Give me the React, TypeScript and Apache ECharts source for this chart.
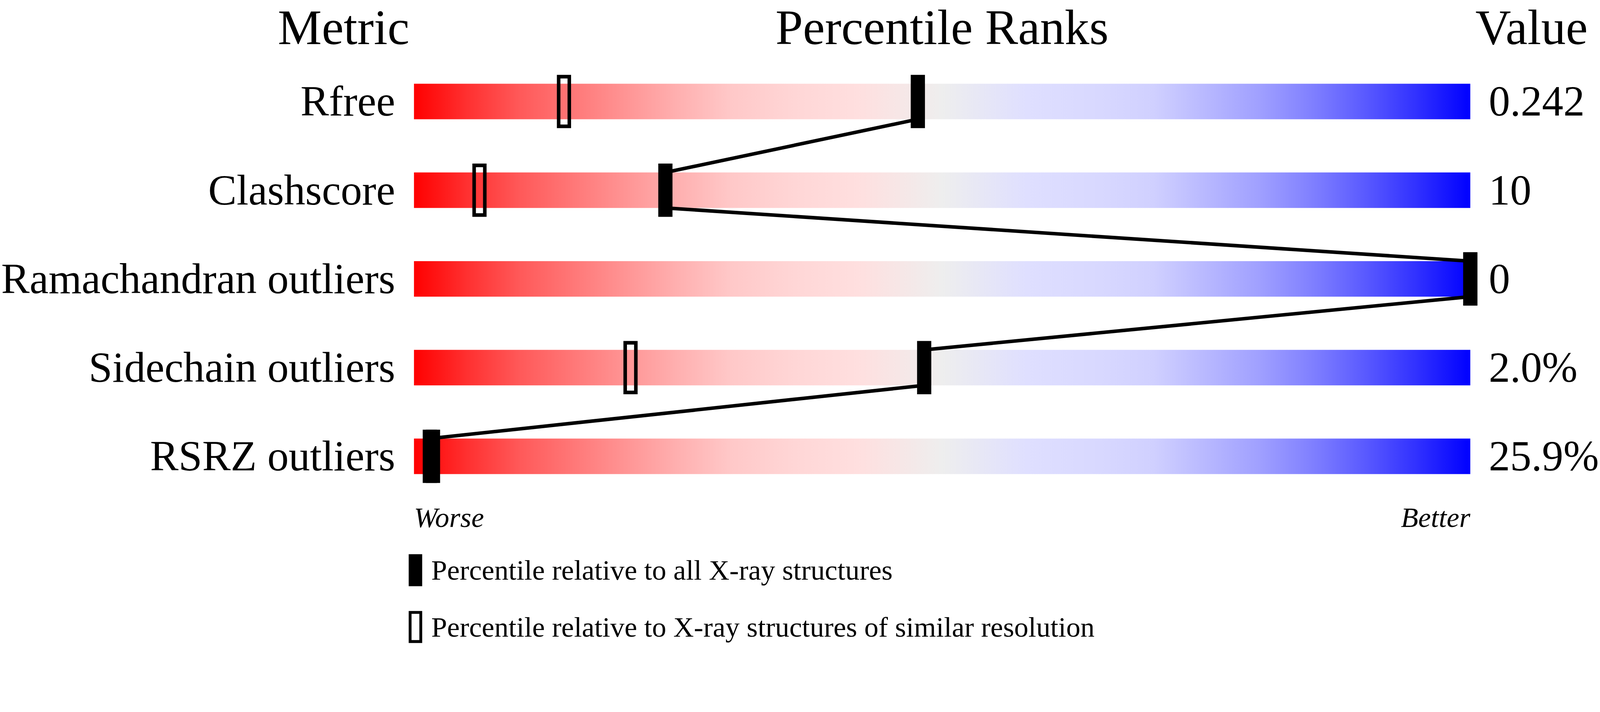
import React, { useEffect, useRef } from 'react';
import * as echarts from 'echarts';

// metric rows, top to bottom
const metrics = ['Rfree', 'Clashscore', 'Ramachandran outliers', 'Sidechain outliers', 'RSRZ outliers'];
const valueLabels = ['0.242', '10', '0', '2.0%', '25.9%'];
// percentile ranks (0 = worse, 100 = better)
const pctAll = [47.7, 23.8, 100, 48.3, 1.5];
const pctSimilar = [14.2, 6.2, 100, 20.5, 1.8];
const scaleFull = [100, 100, 100, 100, 100];
const scaleEnds = ['Worse', 'Better'];
const headers = ['Metric', 'Percentile Ranks', 'Value'];
const legendNames = [
  'Percentile relative to all X-ray structures',
  'Percentile relative to X-ray structures of similar resolution',
];

const FONT = '"Liberation Serif", "Times New Roman", serif';
// layout is designed on a 4506 x 1824 canvas and scaled to the real size
const BASE_W = 4506;
const BASE_H = 1824;

const App: React.FC = () => {
  const chartRef = useRef<HTMLDivElement | null>(null);

  useEffect(() => {
    document.body.style.margin = '0';
    document.body.style.overflow = 'hidden';
    if (!chartRef.current) return;
    const chart = echarts.init(chartRef.current, undefined, { renderer: 'svg' });

    const s = Math.min(chart.getWidth() / BASE_W, chart.getHeight() / BASE_H);
    const p = (v: number) => v * s;

    const BAR_H = p(100);
    const MARK_W = p(40);
    const MARK_H = p(150);
    const LW = p(10);

    const gradient = new echarts.graphic.LinearGradient(0, 0, 1, 0, [
      { offset: 0, color: '#ff0000' },
      { offset: 0.05, color: '#ff3030' },
      { offset: 0.1, color: '#ff5959' },
      { offset: 0.15, color: '#ff7777' },
      { offset: 0.2, color: '#ff9494' },
      { offset: 0.25, color: '#ffb0b0' },
      { offset: 0.3, color: '#ffc8c8' },
      { offset: 0.36, color: '#ffd6d6' },
      { offset: 0.42, color: '#ffdfdf' },
      { offset: 0.5, color: '#eeeeee' },
      { offset: 0.58, color: '#dfdfff' },
      { offset: 0.65, color: '#d8d8ff' },
      { offset: 0.7, color: '#d0d0ff' },
      { offset: 0.75, color: '#b8b8ff' },
      { offset: 0.8, color: '#a0a0ff' },
      { offset: 0.85, color: '#8080ff' },
      { offset: 0.9, color: '#5a5aff' },
      { offset: 0.95, color: '#3030ff' },
      { offset: 1, color: '#0000ff' },
    ]);

    // connector from the bottom of one marker's bar to the top of the next
    const connector = (params: any, api: any) => {
      const i = params.dataIndex;
      if (i >= pctAll.length - 1) return null;
      const a = api.coord([pctAll[i], i]);
      const b = api.coord([pctAll[i + 1], i + 1]);
      return {
        type: 'line',
        shape: { x1: a[0], y1: a[1] + BAR_H / 2, x2: b[0], y2: b[1] - BAR_H / 2 },
        style: { stroke: '#000', lineWidth: LW },
      };
    };

    const filledMark = (params: any, api: any) => {
      const c = api.coord([api.value(0), api.value(1)]);
      return {
        type: 'rect',
        shape: { x: c[0] - MARK_W / 2, y: c[1] - MARK_H / 2, width: MARK_W, height: MARK_H },
        style: { fill: '#000' },
      };
    };

    const hollowMark = (params: any, api: any) => {
      const c = api.coord([api.value(0), api.value(1)]);
      return {
        type: 'rect',
        shape: {
          x: c[0] - MARK_W / 2 + LW / 2,
          y: c[1] - MARK_H / 2 + LW / 2,
          width: MARK_W - LW,
          height: MARK_H - LW,
        },
        style: { fill: 'none', stroke: '#000', lineWidth: LW },
      };
    };

    const option = {
      animation: false,
      backgroundColor: '#fff',
      title: [
        { text: headers[0], left: p(1153), textAlign: 'right' },
        { text: headers[1], left: p(2653), textAlign: 'center' },
        { text: headers[2], left: p(4155), textAlign: 'left' },
      ].map(t => ({
        ...t,
        top: 0,
        padding: 0,
        textVerticalAlign: 'top',
        textStyle: { fontFamily: FONT, fontSize: p(139), lineHeight: p(154), fontWeight: 'normal', color: '#000' },
      })),
      legend: {
        orient: 'vertical',
        left: p(1151),
        top: p(1554),
        height: p(400),
        padding: 0,
        itemWidth: p(38),
        itemHeight: p(90),
        itemGap: p(54),
        selectedMode: false,
        itemStyle: { borderWidth: 0 },
        textStyle: {
          fontFamily: FONT,
          fontSize: p(80),
          lineHeight: p(80),
          color: '#000',
          padding: [p(26), 0, 0, p(20)],
        },
        data: [
          { name: legendNames[0], icon: 'rect' },
          { name: legendNames[1], icon: 'path://M0,0H38V90H0Z M8,8V82H30V8Z' },
        ],
      },
      grid: { left: p(1153), right: p(353), top: p(161), height: p(1250) },
      xAxis: {
        type: 'value',
        min: 0,
        max: 100,
        interval: 100,
        axisLine: { show: false },
        axisTick: { show: false },
        splitLine: { show: false },
        axisLabel: {
          margin: p(7),
          fontFamily: FONT,
          fontStyle: 'italic',
          fontSize: p(80),
          lineHeight: p(80),
          color: '#000',
          alignMinLabel: 'left',
          alignMaxLabel: 'right',
          formatter: (v: number) => (v === 0 ? scaleEnds[0] : v === 100 ? scaleEnds[1] : ''),
        },
      },
      yAxis: [
        {
          type: 'category',
          data: metrics,
          inverse: true,
          axisLine: { show: false },
          axisTick: { show: false },
          splitLine: { show: false },
          axisLabel: {
            margin: p(53),
            fontFamily: FONT,
            fontSize: p(120),
            lineHeight: p(120),
            color: '#000',
            padding: [p(19), 0, 0, 0],
          },
        },
        {
          type: 'category',
          data: valueLabels,
          inverse: true,
          position: 'right',
          axisLine: { show: false },
          axisTick: { show: false },
          splitLine: { show: false },
          axisLabel: {
            margin: p(52),
            align: 'left',
            fontFamily: FONT,
            fontSize: p(120),
            lineHeight: p(120),
            color: '#000',
            padding: [p(19), 0, 0, 0],
          },
        },
      ],
      series: [
        {
          name: 'scale',
          type: 'bar',
          data: scaleFull,
          barWidth: BAR_H,
          silent: true,
          z: 1,
          itemStyle: { color: gradient },
        },
        {
          name: legendNames[1],
          type: 'custom',
          renderItem: hollowMark,
          data: pctSimilar.map((v, i) => [v, i]),
          encode: { x: 0, y: 1 },
          clip: false,
          silent: true,
          z: 3,
          itemStyle: { color: '#000' },
        },
        {
          name: 'connector',
          type: 'custom',
          renderItem: connector,
          data: pctAll.map((v, i) => [v, i]),
          encode: { x: 0, y: 1 },
          clip: false,
          silent: true,
          z: 4,
        },
        {
          name: legendNames[0],
          type: 'custom',
          renderItem: filledMark,
          data: pctAll.map((v, i) => [v, i]),
          encode: { x: 0, y: 1 },
          clip: false,
          silent: true,
          z: 5,
          itemStyle: { color: '#000' },
        },
      ],
    };

    chart.setOption(option);
    return () => chart.dispose();
  }, []);

  return <div ref={chartRef} style={{ width: '100vw', height: '100vh' }} />;
};

export default App;
